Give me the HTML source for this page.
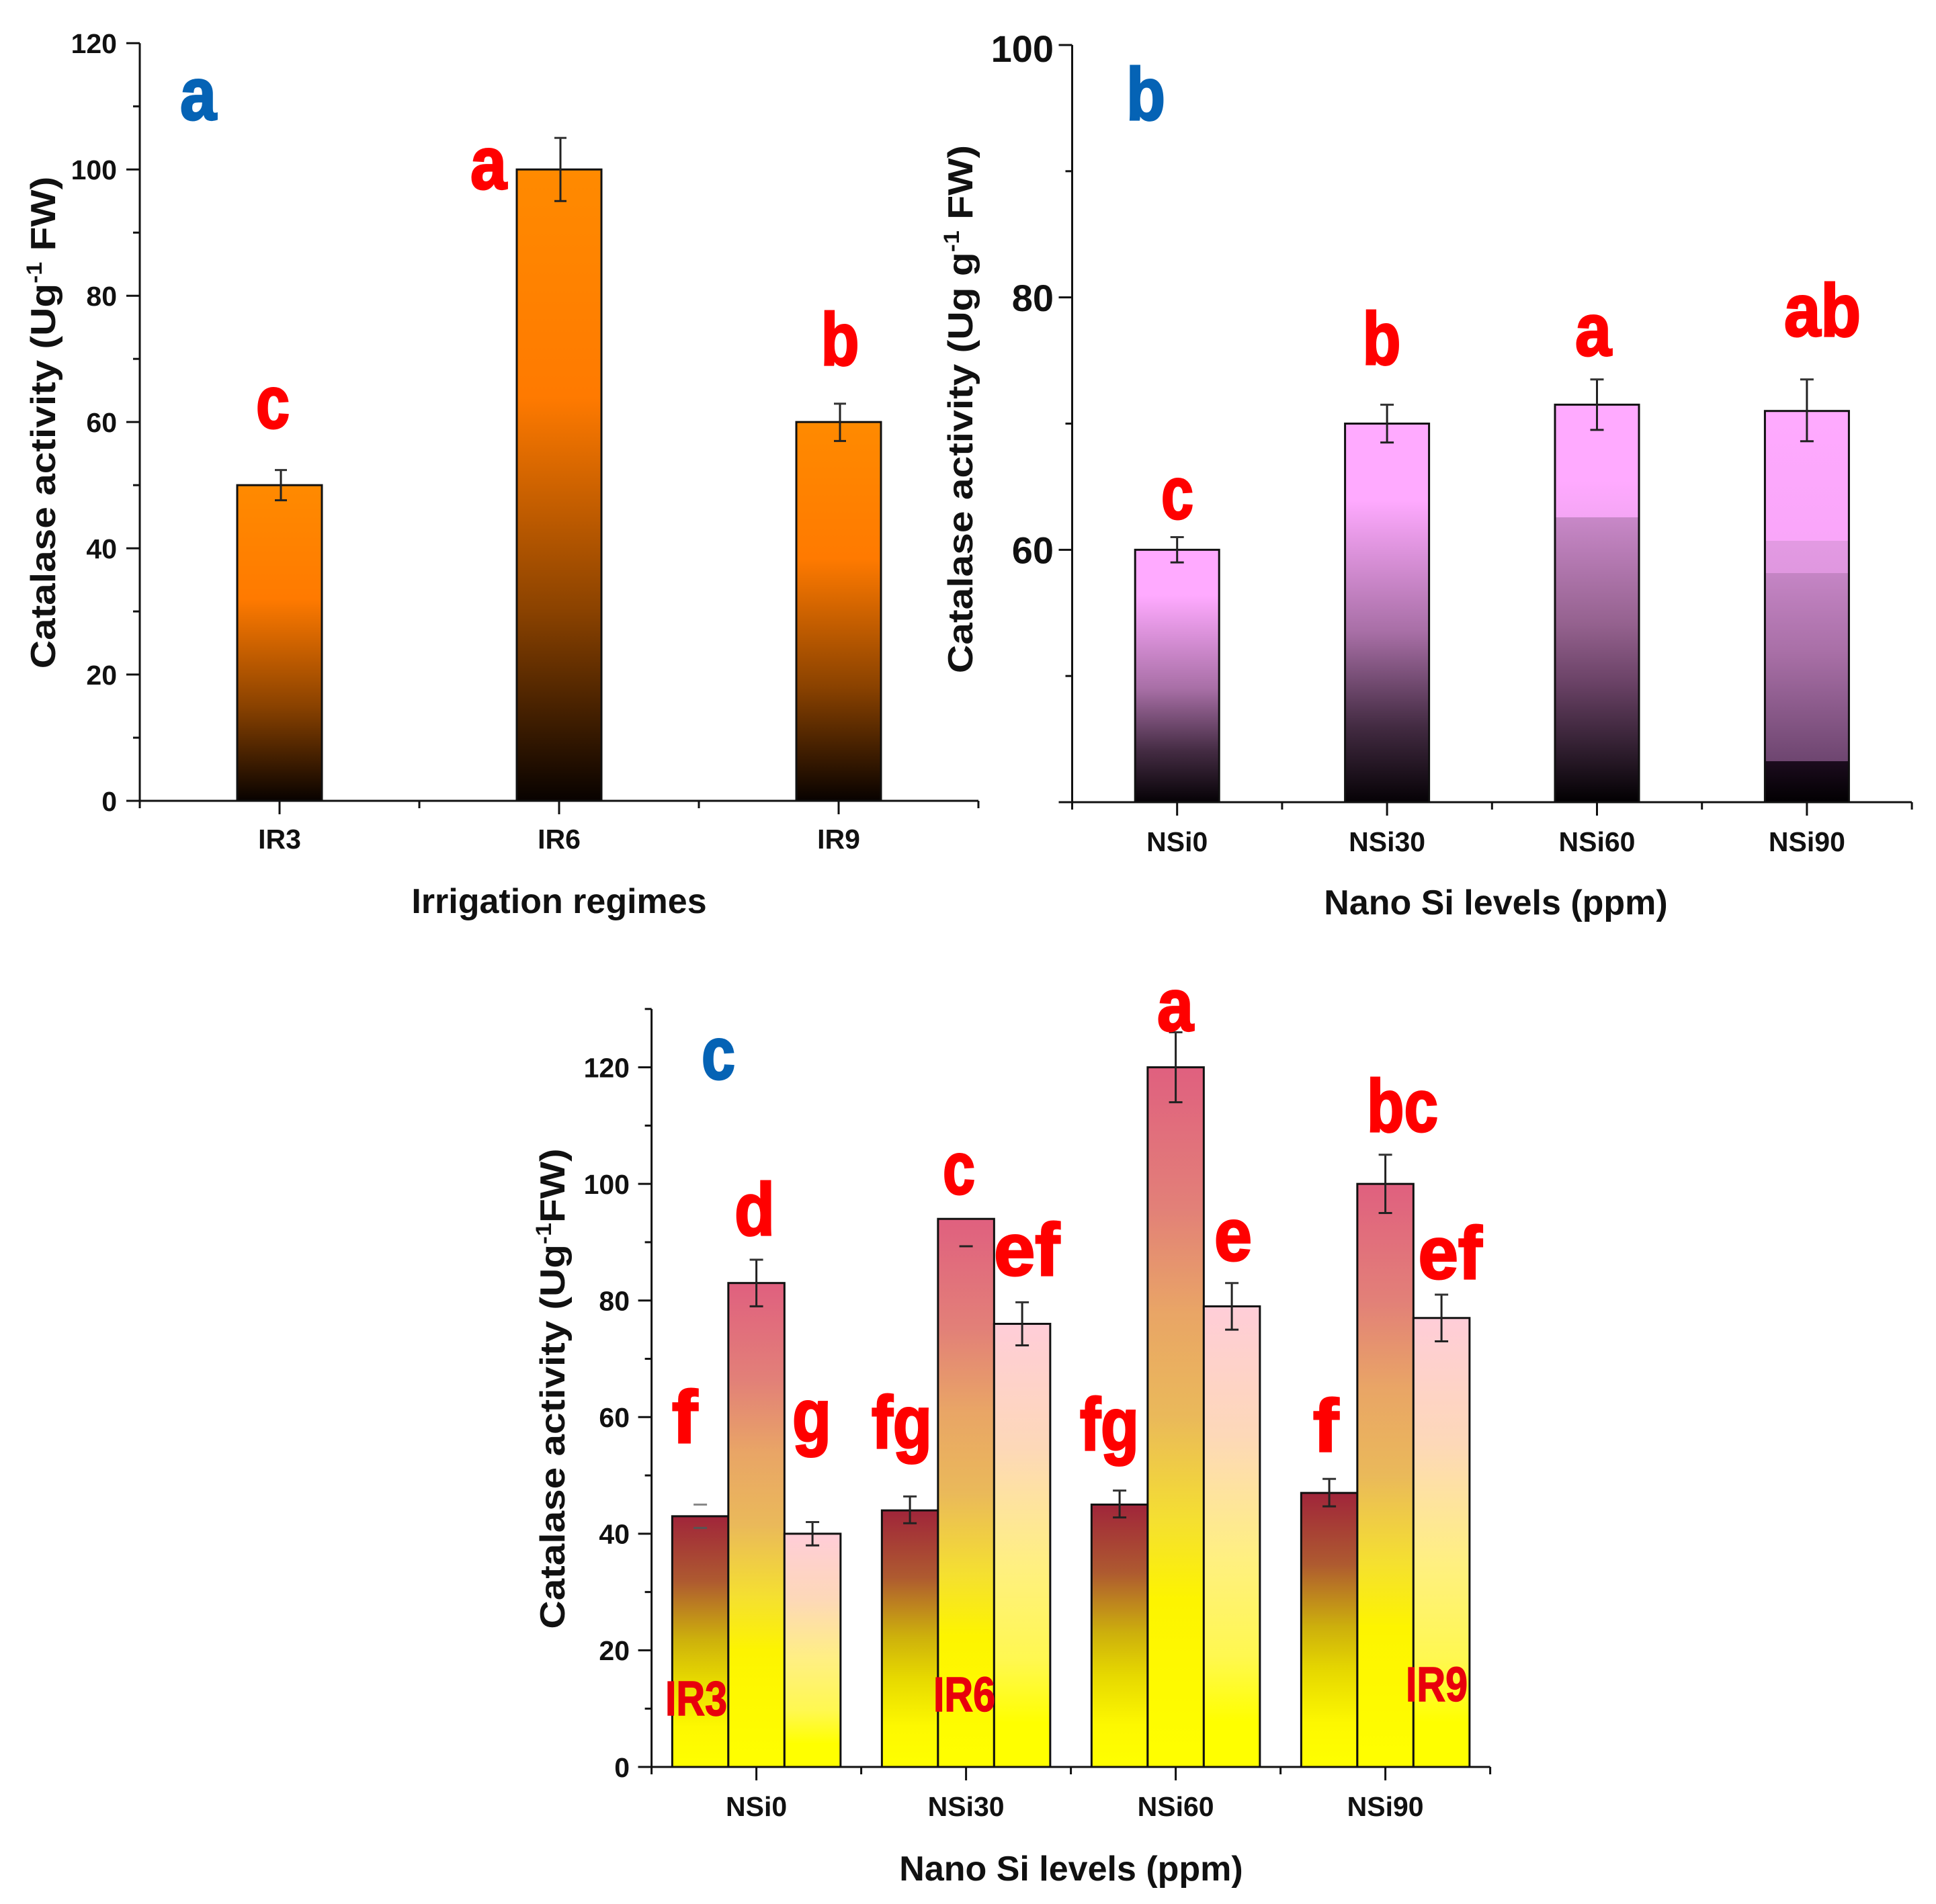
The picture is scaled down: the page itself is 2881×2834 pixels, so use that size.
<!DOCTYPE html>
<html lang="en">
<head>
<meta charset="utf-8">
<title>Catalase activity charts</title>
<style>
html,body{margin:0;padding:0;background:#fff;}
svg{display:block;}
text{font-family:"Liberation Sans",sans-serif;font-weight:bold;fill:#111;}
.ltr{fill:#f00;stroke:#f00;stroke-width:3px;font-size:110px;text-anchor:middle;}
.pnl{fill:#0563b5;stroke:#0563b5;stroke-width:3px;font-size:110px;text-anchor:middle;}
.ser{fill:#e8000c;stroke:#e8000c;stroke-width:1.5px;font-size:72px;text-anchor:middle;}
.xt{font-size:52px;text-anchor:middle;}
.yt{font-size:52px;text-anchor:middle;}
</style>
</head>
<body>
<svg id="figure" xmlns="http://www.w3.org/2000/svg" width="2881" height="2834" viewBox="0 0 2881 2834">
<defs>
  <linearGradient id="grad-orange" x1="0" y1="0" x2="0" y2="1"><stop offset="0" stop-color="#ff8a00"/><stop offset="0.36" stop-color="#ff7a00"/><stop offset="0.7" stop-color="#8a4200"/><stop offset="1" stop-color="#080200"/></linearGradient>
  <linearGradient id="grad-pink-0" x1="0" y1="0" x2="0" y2="1"><stop offset="0" stop-color="#ffaaff"/><stop offset="0.18" stop-color="#ffaaff"/><stop offset="0.55" stop-color="#a86fa6"/><stop offset="0.8" stop-color="#432b42"/><stop offset="1" stop-color="#060206"/></linearGradient>
  <linearGradient id="grad-pink-1" x1="0" y1="0" x2="0" y2="1"><stop offset="0" stop-color="#ffaaff"/><stop offset="0.2" stop-color="#ffaaff"/><stop offset="0.55" stop-color="#a86fa6"/><stop offset="0.8" stop-color="#432b42"/><stop offset="1" stop-color="#060206"/></linearGradient>
  <linearGradient id="grad-pink-2" x1="0" y1="0" x2="0" y2="1"><stop offset="0" stop-color="#ffaaff"/><stop offset="0.19" stop-color="#ffaaff"/><stop offset="0.283" stop-color="#f5a5f5"/><stop offset="0.283" stop-color="#c888c8"/><stop offset="0.55" stop-color="#95628f"/><stop offset="0.7" stop-color="#6a4266"/><stop offset="0.85" stop-color="#362235"/><stop offset="1" stop-color="#020002"/></linearGradient>
  <linearGradient id="grad-pink-3" x1="0" y1="0" x2="0" y2="1"><stop offset="0" stop-color="#ffaaff"/><stop offset="0.332" stop-color="#f9a6f9"/><stop offset="0.332" stop-color="#e29ae2"/><stop offset="0.414" stop-color="#e097e0"/><stop offset="0.414" stop-color="#c585c5"/><stop offset="0.62" stop-color="#a86fa6"/><stop offset="0.895" stop-color="#6e4670"/><stop offset="0.895" stop-color="#1c0c1e"/><stop offset="1" stop-color="#020002"/></linearGradient>
  <linearGradient id="grad-ir3" x1="0" y1="0" x2="0" y2="1"><stop offset="0" stop-color="#a0253a"/><stop offset="0.26" stop-color="#ae5a30"/><stop offset="0.49" stop-color="#cdb00c"/><stop offset="0.65" stop-color="#e6d800"/><stop offset="0.84" stop-color="#fdf800"/><stop offset="1" stop-color="#ffff00"/></linearGradient>
  <linearGradient id="grad-ir6" x1="0" y1="0" x2="0" y2="1"><stop offset="0" stop-color="#e0607f"/><stop offset="0.2" stop-color="#e28078"/><stop offset="0.35" stop-color="#e9a566"/><stop offset="0.5" stop-color="#eab95a"/><stop offset="0.65" stop-color="#f5e030"/><stop offset="0.76" stop-color="#fdf400"/><stop offset="1" stop-color="#ffff00"/></linearGradient>
  <linearGradient id="grad-ir9" x1="0" y1="0" x2="0" y2="1"><stop offset="0" stop-color="#ffcdd8"/><stop offset="0.28" stop-color="#fdd8b8"/><stop offset="0.55" stop-color="#fff080"/><stop offset="0.76" stop-color="#fff850"/><stop offset="0.9" stop-color="#ffff00"/><stop offset="1" stop-color="#ffff00"/></linearGradient>
</defs>

<g id="panel-a"></g>
<g id="panel-b"></g>
<g id="panel-c"></g>

<!-- axis titles -->
<text class="yt" transform="translate(82,629) rotate(-90) scale(1.128,1)">Catalase activity (Ug<tspan font-size="32" dy="-20">-1</tspan><tspan dy="20"> FW)</tspan></text>
<text class="xt" x="832" y="1359">Irrigation regimes</text>
<text class="yt" transform="translate(1447,609) rotate(-90) scale(1.13,1)">Catalase activity (Ug g<tspan font-size="32" dy="-20">-1</tspan><tspan dy="20"> FW)</tspan></text>
<text class="xt" x="2226" y="1361">Nano Si levels (ppm)</text>
<text class="yt" transform="translate(840,2067) rotate(-90) scale(1.126,1)">Catalase activity (Ug<tspan font-size="32" dy="-20">-1</tspan><tspan dy="20">FW)</tspan></text>
<text class="xt" x="1594" y="2799">Nano Si levels (ppm)</text>

<!-- panel letters -->
<text class="pnl" x="295" y="178" textLength="54" lengthAdjust="spacingAndGlyphs">a</text>
<text class="pnl" x="1705" y="178" textLength="58" lengthAdjust="spacingAndGlyphs">b</text>
<text class="pnl" x="1069" y="1606" textLength="50" lengthAdjust="spacingAndGlyphs">c</text>

<!-- significance letters: panel a -->
<text class="ltr" x="406" y="637" textLength="50" lengthAdjust="spacingAndGlyphs">c</text>
<text class="ltr" x="727" y="281" textLength="54" lengthAdjust="spacingAndGlyphs">a</text>
<text class="ltr" x="1250" y="543" textLength="57" lengthAdjust="spacingAndGlyphs">b</text>
<!-- panel b -->
<text class="ltr" x="1752" y="772" textLength="48" lengthAdjust="spacingAndGlyphs">c</text>
<text class="ltr" x="2056" y="542" textLength="57" lengthAdjust="spacingAndGlyphs">b</text>
<text class="ltr" x="2371" y="529" textLength="54" lengthAdjust="spacingAndGlyphs">a</text>
<text class="ltr" x="2712" y="500" textLength="114" lengthAdjust="spacingAndGlyphs">ab</text>
<!-- panel c -->
<text class="ltr" x="1019" y="2147" textLength="38" lengthAdjust="spacingAndGlyphs">f</text>
<text class="ltr" x="1123" y="1838" textLength="60" lengthAdjust="spacingAndGlyphs">d</text>
<text class="ltr" x="1208" y="2145" textLength="58" lengthAdjust="spacingAndGlyphs">g</text>
<text class="ltr" x="1342" y="2155" textLength="90" lengthAdjust="spacingAndGlyphs">fg</text>
<text class="ltr" x="1427" y="1777" textLength="48" lengthAdjust="spacingAndGlyphs">c</text>
<text class="ltr" x="1528" y="1898" textLength="98" lengthAdjust="spacingAndGlyphs">ef</text>
<text class="ltr" x="1651" y="2158" textLength="88" lengthAdjust="spacingAndGlyphs">fg</text>
<text class="ltr" x="1749" y="1534" textLength="54" lengthAdjust="spacingAndGlyphs">a</text>
<text class="ltr" x="1835" y="1876" textLength="56" lengthAdjust="spacingAndGlyphs">e</text>
<text class="ltr" x="1973" y="2160" textLength="38" lengthAdjust="spacingAndGlyphs">f</text>
<text class="ltr" x="2087" y="1684" textLength="106" lengthAdjust="spacingAndGlyphs">bc</text>
<text class="ltr" x="2158" y="1903" textLength="95" lengthAdjust="spacingAndGlyphs">ef</text>
<!-- series labels -->
<text class="ser" x="1036" y="2553" textLength="92" lengthAdjust="spacingAndGlyphs">IR3</text>
<text class="ser" x="1435" y="2547" textLength="92" lengthAdjust="spacingAndGlyphs">IR6</text>
<text class="ser" x="2138" y="2532" textLength="92" lengthAdjust="spacingAndGlyphs">IR9</text>
</svg>

<script>
// Panel a data
const aCategories = ['IR3', 'IR6', 'IR9'];
const aValues = [50, 100, 60];
const aUpper = [52.4, 105, 62.9];
const aLower = [47.6, 95, 57];
const aYTicks = [0, 20, 40, 60, 80, 100, 120];
const aYMinorTicks = [10, 30, 50, 70, 90, 110];

// Panel b data
const bCategories = ['NSi0', 'NSi30', 'NSi60', 'NSi90'];
const bValues = [60, 70, 71.5, 71];
const bUpper = [61, 71.5, 73.5, 73.5];
const bLower = [59, 68.5, 69.5, 68.6];
const bYTicks = [60, 80, 100];
const bYMinorTicks = [40, 50, 70, 90];

// Panel c data
const cCategories = ['NSi0', 'NSi30', 'NSi60', 'NSi90'];
const cSeries = ['IR3', 'IR6', 'IR9'];
const cIR3Values = [43, 44, 45, 47];
const cIR6Values = [83, 94, 120, 100];
const cIR9Values = [40, 76, 79, 77];
const cIR3Upper = [45, 46.4, 47.4, 49.4];
const cIR6Upper = [87, null, 126, 105];
const cIR9Upper = [42, 79.7, 83, 81];
const cIR3Lower = [41, 41.8, 42.8, 44.7];
const cIR6Lower = [79, 89.3, 114, 95];
const cIR9Lower = [38, 72.3, 75, 73];
const cYTicks = [0, 20, 40, 60, 80, 100, 120];
const cYMinorTicks = [10, 30, 50, 70, 90, 110, 130];

const SVGNS = 'http://www.w3.org/2000/svg';
function mk(parent, tag, attrs) {
  const el = document.createElementNS(SVGNS, tag);
  for (const k in attrs) el.setAttribute(k, attrs[k]);
  parent.appendChild(el);
  return el;
}
function line(parent, x1, y1, x2, y2, w, color) {
  return mk(parent, 'line', { x1: x1, y1: y1, x2: x2, y2: y2, stroke: color || '#111', 'stroke-width': w });
}
function drawAxes(parent, cfg) {
  const y = cfg.y;
  const yAxis = line(parent, cfg.left, y(cfg.yMax), cfg.left, cfg.base, 3);
  
  
  const xAxis = line(parent, cfg.left - 20, cfg.base, cfg.right, cfg.base, 3);
  
  
  cfg.yTicks.forEach(function (t) {
    const tick = line(parent, cfg.left - 20, y(t), cfg.left, y(t), 3);
    
    
    const shift = (t === cfg.yMax && cfg.topLabelShift) ? cfg.topLabelShift : 0;
    const label = mk(parent, 'text', { x: cfg.yLabelX, y: y(t) + cfg.yFont * 0.36 + shift, 'font-size': cfg.yFont, 'text-anchor': 'end' });
    label.textContent = t;
    
    
  });
  cfg.yMinor.forEach(function (t) {
    const tick = line(parent, cfg.left - 10, y(t), cfg.left, y(t), 3);
    
    
  });
  cfg.categories.forEach(function (c, i) {
    const cx = cfg.cx(i);
    const tick = line(parent, cx, cfg.base, cx, cfg.base + 20, 3);
    
    
    const label = mk(parent, 'text', { x: cx, y: cfg.xLabelY, 'font-size': 41, 'text-anchor': 'middle' });
    label.textContent = c;
    
    
  });
  for (let i = 0; i <= cfg.categories.length; i++) {
    const mx = cfg.cx(i) - cfg.step / 2;
    const tick = line(parent, mx, cfg.base, mx, cfg.base + 11, 3);
    
    
  }
}
function drawBar(parent, cx, width, val, y, base, fill) {
  const top = y(val);
  const rect = mk(parent, 'rect', { x: cx - width / 2, y: top, width: width, height: base - top, fill: fill, stroke: '#111', 'stroke-width': 3 });
  
  
}
function drawError(parent, cx, upper, lower, y, cap, stem) {
  const g = mk(parent, 'g', {});
  
  
  if (upper !== null && stem) line(g, cx, y(upper), cx, y(lower), 3, '#222');
  if (upper !== null) line(g, cx - cap / 2, y(upper), cx + cap / 2, y(upper), 3, stem ? '#333' : '#888');
  line(g, cx - cap / 2, y(lower), cx + cap / 2, y(lower), 3, stem ? '#222' : '#555');
}

// ---- panel a
(function () {
  const root = document.getElementById('panel-a');
  const base = 1192;
  const y = function (v) { return base - v * (1127.7 / 120); };
  const step = 416;
  const cx = function (i) { return 416 + i * step; };
  aCategories.forEach(function (c, i) {
    drawBar(root, cx(i), 126, aValues[i], y, base, 'url(#grad-orange)');
  });
  drawAxes(root, { y: y, left: 208, right: 1456, base: base, yMax: 120, yTicks: aYTicks, yMinor: aYMinorTicks, yLabelX: 174, yFont: 41, categories: aCategories, cx: cx, step: step, xLabelY: 1263 });
  aCategories.forEach(function (c, i) {
    drawError(root, cx(i) + 2, aUpper[i], aLower[i], y, 18, true);
  });
})();

// ---- panel b
(function () {
  const root = document.getElementById('panel-b');
  const base = 1194;
  const y = function (v) { return base - (v - 40) * (1127 / 60); };
  const step = 312.4;
  const cx = function (i) { return 1751.7 + i * step; };
  bCategories.forEach(function (c, i) {
    drawBar(root, cx(i), 125, bValues[i], y, base, 'url(#grad-pink-' + i + ')');
  });
  drawAxes(root, { y: y, left: 1595.5, right: 2845, base: base, yMax: 100, yTicks: bYTicks, yMinor: bYMinorTicks, yLabelX: 1568, yFont: 56, topLabelShift: 5, categories: bCategories, cx: cx, step: step, xLabelY: 1267 });
  bCategories.forEach(function (c, i) {
    drawError(root, cx(i), bUpper[i], bLower[i], y, 20, true);
  });
})();

// ---- panel c
(function () {
  const root = document.getElementById('panel-c');
  const base = 2630;
  const y = function (v) { return base - v * (1041.4 / 120); };
  const step = 312;
  const cx = function (i) { return 1125.6 + i * step; };
  const barW = 83.5;
  const valueSets = [cIR3Values, cIR6Values, cIR9Values];
  const upperSets = [cIR3Upper, cIR6Upper, cIR9Upper];
  const lowerSets = [cIR3Lower, cIR6Lower, cIR9Lower];
  const fills = ['url(#grad-ir3)', 'url(#grad-ir6)', 'url(#grad-ir9)'];
  cCategories.forEach(function (c, i) {
    cSeries.forEach(function (s, j) {
      drawBar(root, cx(i) + (j - 1) * barW, barW, valueSets[j][i], y, base, fills[j]);
    });
  });
  drawAxes(root, { y: y, left: 969.6, right: 2217.6, base: base, yMax: 130, yTicks: cYTicks, yMinor: cYMinorTicks, yLabelX: 937, yFont: 41, categories: cCategories, cx: cx, step: step, xLabelY: 2703 });
  cCategories.forEach(function (c, i) {
    cSeries.forEach(function (s, j) {
      const stem = !(i === 0 && j === 0);
      drawError(root, cx(i) + (j - 1) * barW, upperSets[j][i], lowerSets[j][i], y, 20, stem);
    });
  });
})();
</script>
</body>
</html>
